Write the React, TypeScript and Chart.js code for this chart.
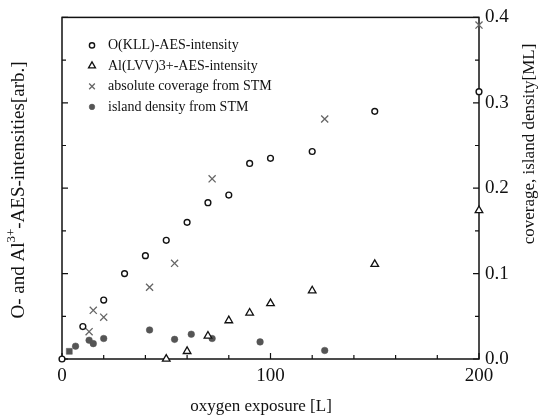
import React, { useEffect, useRef } from "react";
import { Chart, registerables, Plugin } from "chart.js";
import { drawPoint } from "chart.js/helpers";

Chart.register(...registerables);

// O(KLL) AES intensity (plotted on the same 0..0.4 frame, arb. units)
const oxygenExposure = [0, 10, 20, 30, 40, 50, 60, 70, 80, 90, 100, 120, 150, 200];
const oxygenIntensity = [0, 0.038, 0.069, 0.1, 0.121, 0.139, 0.16, 0.183, 0.192, 0.229, 0.235, 0.243, 0.29, 0.313];

// Al(LVV)3+ AES intensity
const alExposure = [50, 60, 70, 80, 90, 100, 120, 150, 200];
const alIntensity = [0, 0.009, 0.027, 0.045, 0.054, 0.065, 0.08, 0.111, 0.174];

// absolute coverage from STM [ML]
const coverageExposure = [13, 15, 20, 42, 54, 72, 126, 200];
const coverageValues = [0.032, 0.057, 0.049, 0.084, 0.112, 0.211, 0.281, 0.391];

// island density from STM
const islandExposure = [3.5, 6.5, 13, 15, 20, 42, 54, 62, 72, 95, 126];
const islandValues = [0.009, 0.015, 0.022, 0.018, 0.024, 0.034, 0.023, 0.029, 0.024, 0.02, 0.01];

const xLabelValues = [0, 100, 200];
const yLabelValues = [0, 0.1, 0.2, 0.3, 0.4];

const FONT = '"Liberation Serif", "Times New Roman", serif';

const toPoints = (xs: number[], ys: number[]) => xs.map((x, i) => ({ x, y: ys[i] }));

const isLabel = (v: number, list: number[]) => list.some((l) => Math.abs(l - v) < 1e-6);

// frame + inward tick marks
const framePlugin: Plugin = {
  id: "frame",
  beforeDatasetsDraw(chart) {
    const { ctx, chartArea } = chart;
    const { left, right, top, bottom } = chartArea;
    const xs = chart.scales.x;
    const ys = chart.scales.y;
    ctx.save();
    ctx.strokeStyle = "#111";
    ctx.lineWidth = 1.5;
    ctx.strokeRect(left, top, right - left, bottom - top);
    ctx.lineWidth = 1.2;
    ctx.beginPath();
    xs.ticks.forEach((t) => {
      const px = xs.getPixelForValue(t.value);
      const len = isLabel(t.value, xLabelValues) ? 6 : 4;
      ctx.moveTo(px, bottom);
      ctx.lineTo(px, bottom - len);
    });
    ys.ticks.forEach((t) => {
      const py = ys.getPixelForValue(t.value);
      const len = isLabel(t.value, yLabelValues) ? 6 : 4;
      ctx.moveTo(left, py);
      ctx.lineTo(left + len, py);
      ctx.moveTo(right, py);
      ctx.lineTo(right - len, py);
    });
    ctx.stroke();
    ctx.restore();
  },
};

// legend inside the plot + axis titles
const textPlugin: Plugin = {
  id: "texts",
  afterDraw(chart) {
    const { ctx, chartArea } = chart;
    ctx.save();
    ctx.fillStyle = "#111";
    ctx.textBaseline = "middle";

    // legend
    ctx.font = `14px ${FONT}`;
    chart.data.datasets.forEach((ds: any, i) => {
      const y = chartArea.top + 28 + i * 20.5;
      const x = chartArea.left + 30;
      ctx.save();
      ctx.strokeStyle = ds.pointBorderColor;
      ctx.fillStyle = ds.legendFill;
      ctx.lineWidth = ds.pointBorderWidth;
      drawPoint(ctx, { pointStyle: ds.legendStyle, radius: ds.legendRadius, rotation: 0, borderWidth: ds.pointBorderWidth }, x, y);
      ctx.restore();
      ctx.textAlign = "left";
      ctx.fillText(ds.label, x + 16, y);
    });

    // bottom title
    ctx.font = `17px ${FONT}`;
    ctx.textAlign = "center";
    ctx.fillText("oxygen exposure [L]", 261, 407);

    // right title
    ctx.save();
    ctx.translate(530, 144);
    ctx.rotate(-Math.PI / 2);
    ctx.fillText("coverage, island density[ML]", 0, 0);
    ctx.restore();

    // left title with superscript
    const partA = "O- and Al";
    const sup = "3+";
    const partB = "-AES-intensities[arb.]";
    ctx.save();
    ctx.translate(19, 190);
    ctx.rotate(-Math.PI / 2);
    ctx.textAlign = "left";
    ctx.font = `19px ${FONT}`;
    const wA = ctx.measureText(partA).width;
    const wB = ctx.measureText(partB).width;
    ctx.font = `13px ${FONT}`;
    const wS = ctx.measureText(sup).width;
    let x0 = -(wA + wS + wB) / 2;
    ctx.font = `19px ${FONT}`;
    ctx.fillText(partA, x0, 0);
    x0 += wA;
    ctx.font = `13px ${FONT}`;
    ctx.fillText(sup, x0, -7);
    x0 += wS;
    ctx.font = `19px ${FONT}`;
    ctx.fillText(partB, x0, 0);
    ctx.restore();

    ctx.restore();
  },
};

export default function App() {
  const canvasRef = useRef<HTMLCanvasElement>(null);

  useEffect(() => {
    document.body.style.margin = "0";
    if (!canvasRef.current) return;

    const chart = new Chart(canvasRef.current, {
      type: "scatter",
      data: {
        datasets: [
          {
            label: "O(KLL)-AES-intensity",
            data: toPoints(oxygenExposure, oxygenIntensity),
            pointStyle: "circle",
            pointRadius: 2.9,
            pointBorderWidth: 1.4,
            pointBorderColor: "#111",
            pointBackgroundColor: "#fff",
            clip: false,
            legendStyle: "circle",
            legendRadius: 2.6,
            legendFill: "#fff",
          } as any,
          {
            label: "Al(LVV)3+-AES-intensity",
            data: toPoints(alExposure, alIntensity),
            pointStyle: "triangle",
            pointRadius: 4.4,
            pointBorderWidth: 1.3,
            pointBorderColor: "#111",
            pointBackgroundColor: "#fff",
            clip: false,
            legendStyle: "triangle",
            legendRadius: 4,
            legendFill: "#fff",
          } as any,
          {
            label: "absolute coverage from STM",
            data: toPoints(coverageExposure, coverageValues),
            pointStyle: "crossRot",
            pointRadius: 5,
            pointBorderWidth: 1.3,
            pointBorderColor: "#666",
            pointBackgroundColor: "#666",
            clip: false,
            legendStyle: "crossRot",
            legendRadius: 4,
            legendFill: "#666",
          } as any,
          {
            label: "island density from STM",
            data: toPoints(islandExposure, islandValues),
            pointStyle: islandExposure.map((_, i) => (i === 0 ? "rect" : "circle")),
            pointRadius: islandExposure.map((_, i) => (i === 0 ? 4.2 : 3.3)),
            pointBorderWidth: 0.5,
            pointBorderColor: "#555",
            pointBackgroundColor: "#555",
            clip: false,
            legendStyle: "circle",
            legendRadius: 2.8,
            legendFill: "#555",
          } as any,
        ],
      },
      options: {
        animation: false,
        responsive: true,
        maintainAspectRatio: false,
        layout: { padding: { left: 62, top: 17, right: 0, bottom: 0 } },
        plugins: {
          legend: { display: false },
          tooltip: { enabled: false },
        },
        scales: {
          x: {
            type: "linear",
            min: 0,
            max: 200,
            grid: { display: false, drawTicks: false },
            border: { display: false },
            ticks: {
              stepSize: 20,
              autoSkip: false,
              maxRotation: 0,
              padding: 6,
              color: "#111",
              font: { family: FONT, size: 19 },
              callback: (v) => (isLabel(Number(v), xLabelValues) ? String(v) : ""),
            },
            afterFit: (scale) => {
              scale.height = 59;
            },
          },
          y: {
            type: "linear",
            position: "right",
            min: 0,
            max: 0.4,
            grid: { display: false, drawTicks: false },
            border: { display: false },
            ticks: {
              stepSize: 0.05,
              autoSkip: false,
              padding: 6,
              color: "#111",
              font: { family: FONT, size: 19 },
              callback: (v) => (isLabel(Number(v), yLabelValues) ? Number(v).toFixed(1) : ""),
            },
            afterFit: (scale) => {
              scale.width = 66;
            },
          },
        },
      },
      plugins: [framePlugin, textPlugin],
    });

    return () => chart.destroy();
  }, []);

  return (
    <div style={{ width: 545, height: 418, position: "relative", background: "#fff" }}>
      <canvas ref={canvasRef} />
    </div>
  );
}
